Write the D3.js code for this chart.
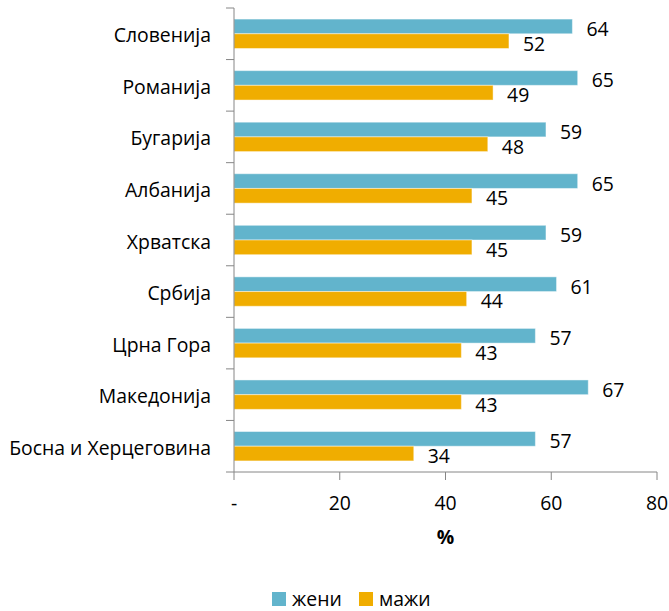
<!DOCTYPE html>
<html>
<head>
<meta charset="utf-8">
<script src="https://cdn.jsdelivr.net/npm/d3@7"></script>
<style>
  html, body { margin: 0; padding: 0; background: #fff; }
  svg text { font-family: "Open Sans", sans-serif; fill: #000; }
</style>
</head>
<body>
<svg id="chart" width="669" height="611"></svg>
<script>
// ---- data ----
const countries = ['Словенија', 'Романија', 'Бугарија', 'Албанија', 'Хрватска',
                   'Србија', 'Црна Гора', 'Македонија', 'Босна и Херцеговина'];
const women = [64, 65, 59, 65, 59, 61, 57, 67, 57];
const men   = [52, 49, 48, 45, 45, 44, 43, 43, 34];
const seriesNames = ['жени', 'мажи'];
const seriesColors = ['#62b4cc', '#f0ad00'];
const xTicks = [0, 20, 40, 60, 80];

const svg = d3.select('#chart');
const M = { top: 8, left: 234, right: 12, bottom: 139 };
const W = 669, H = 611;
const FS = 19.4;

const x = d3.scaleLinear().domain([0, 80]).range([M.left, W - M.right]);
const y = d3.scaleBand().domain(countries).range([M.top, H - M.bottom]);
const groupH = 29.4;
const inner = d3.scaleBand().domain([0, 1]).range([0, groupH]);

const rows = countries.map((c, i) => ({ c, vals: [women[i], men[i]] }));

// ---- bars ----
const g = svg.selectAll('.row').data(rows).enter().append('g')
  .attr('transform', d => `translate(0,${y(d.c) + (y.bandwidth() - groupH) / 2})`);

g.selectAll('rect').data(d => d.vals).enter().append('rect')
  .attr('x', x(0))
  .attr('y', (v, i) => inner(i))
  .attr('width', v => x(v) - x(0))
  .attr('height', inner.bandwidth())
  .attr('fill', (v, i) => seriesColors[i])
  .attr('stroke', 'rgba(255,255,255,0.45)')
  .attr('stroke-width', 1);

g.selectAll('text').data(d => d.vals).enter().append('text')
  .attr('x', v => x(v) + 14)
  .attr('y', (v, i) => inner(i) + inner.bandwidth() / 2 + 9.5)
  .attr('font-size', FS)
  .text(v => v);

// ---- axes ----
const axisColor = '#868686';
const axis = svg.append('g');
axis.append('line')
  .attr('x1', x(0)).attr('x2', x(0))
  .attr('y1', M.top).attr('y2', H - M.bottom)
  .attr('stroke', axisColor);
axis.append('line')
  .attr('x1', x(0)).attr('x2', x(80))
  .attr('y1', H - M.bottom).attr('y2', H - M.bottom)
  .attr('stroke', axisColor);

// category boundary ticks on the left
const bounds = countries.map(c => y(c)).concat([H - M.bottom]);
axis.selectAll('.ltick').data(bounds).enter().append('line')
  .attr('x1', x(0) - 8).attr('x2', x(0))
  .attr('y1', d => d).attr('y2', d => d)
  .attr('stroke', axisColor);

axis.selectAll('.btick').data(xTicks).enter().append('line')
  .attr('x1', d => x(d)).attr('x2', d => x(d))
  .attr('y1', H - M.bottom).attr('y2', H - M.bottom + 8)
  .attr('stroke', axisColor);

svg.selectAll('.xlabel').data(xTicks).enter().append('text')
  .attr('x', d => x(d))
  .attr('y', H - M.bottom + 38)
  .attr('text-anchor', 'middle')
  .attr('font-size', FS)
  .text(d => d === 0 ? '-' : d);

svg.append('text')
  .attr('x', (x(0) + x(80)) / 2)
  .attr('y', H - M.bottom + 72)
  .attr('text-anchor', 'middle')
  .attr('font-size', FS)
  .attr('font-weight', 'bold')
  .text('%');

// category labels
svg.selectAll('.ylabel').data(countries).enter().append('text')
  .attr('x', 211)
  .attr('y', d => y(d) + y.bandwidth() / 2 + 8.5)
  .attr('text-anchor', 'end')
  .attr('font-size', FS)
  .text(d => d);

// ---- legend ----
const legendX = [272, 359];
const lg = svg.selectAll('.legend').data(seriesNames).enter().append('g')
  .attr('transform', (d, i) => `translate(${legendX[i]},592)`);
lg.append('rect').attr('width', 14).attr('height', 14)
  .attr('fill', (d, i) => seriesColors[i]);
lg.append('text').attr('x', 20).attr('y', 14)
  .attr('font-size', FS)
  .text(d => d);
</script>
</body>
</html>
